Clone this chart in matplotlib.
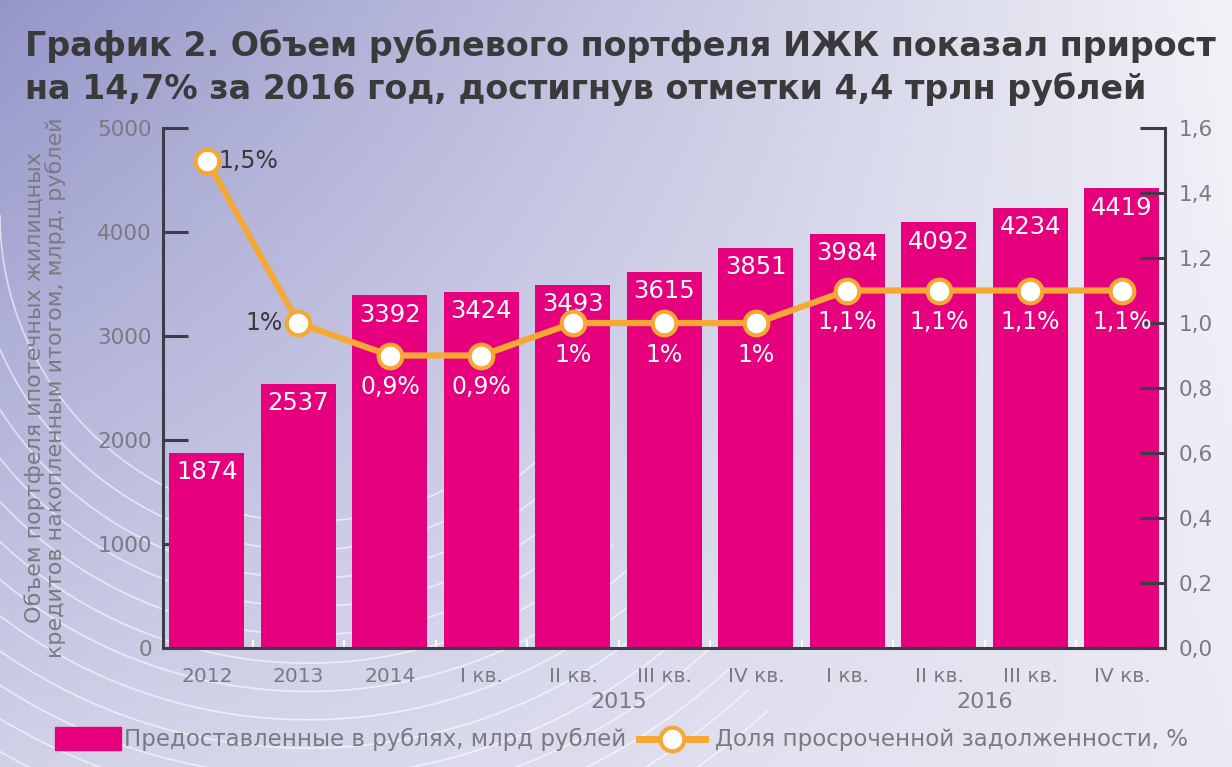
import numpy as np
import matplotlib.pyplot as plt
from matplotlib.lines import Line2D
from matplotlib.patches import Rectangle, Arc

# Data
categories = ['2012', '2013', '2014', 'I кв.', 'II кв.', 'III кв.', 'IV кв.',
              'I кв.', 'II кв.', 'III кв.', 'IV кв.']
portfolio = [1874, 2537, 3392, 3424, 3493, 3615, 3851, 3984, 4092, 4234, 4419]
overdue = [1.5, 1.0, 0.9, 0.9, 1.0, 1.0, 1.0, 1.1, 1.1, 1.1, 1.1]
overdue_labels = ['1,5%', '1%', '0,9%', '0,9%', '1%', '1%', '1%',
                  '1,1%', '1,1%', '1,1%', '1,1%']
year_groups = [('2015', 3, 6), ('2016', 7, 10)]
left_ticks = [0, 1000, 2000, 3000, 4000, 5000]
right_ticks = [0.0, 0.2, 0.4, 0.6, 0.8, 1.0, 1.2, 1.4, 1.6]

magenta = '#E6007E'
orange = '#F5A834'
axis_col = '#3d3d4a'
grey = '#7a7a80'
title_col = '#3a3a3a'

fig = plt.figure(figsize=(12.32, 7.67), dpi=100)

# decorative background
bg = fig.add_axes([0, 0, 1, 1], zorder=-10)
h, w = 200, 320
yy, xx = np.mgrid[0:1:h * 1j, 0:1:w * 1j]
tl = np.array([0.58, 0.59, 0.79])
tr = np.array([0.95, 0.95, 0.97])
bl = np.array([0.82, 0.82, 0.91])
br = np.array([0.92, 0.92, 0.96])
img = ((1 - xx)[..., None] * (1 - yy)[..., None] * tl + xx[..., None] * (1 - yy)[..., None] * tr
       + (1 - xx)[..., None] * yy[..., None] * bl + xx[..., None] * yy[..., None] * br)
bg.imshow(img, extent=[0, 1, 0, 1], aspect='auto', origin='upper')
for r in np.linspace(0.25, 0.55, 14):
    bg.add_patch(Arc((0.25, 0.72), 2 * r, 2 * r * 1.6, theta1=180, theta2=300,
                     color='white', lw=1.2, alpha=0.6))
bg.set_xlim(0, 1)
bg.set_ylim(0, 1)
bg.axis('off')

ax = fig.add_axes([0.1323, 0.1551, 0.8133, 0.678])
ax.patch.set_alpha(0)
x = np.arange(len(categories))
ax.bar(x, portfolio, width=0.82, color=magenta, zorder=2)
for xi, v in zip(x, portfolio):
    ax.text(xi, v - 70, str(v), ha='center', va='top', color='white', fontsize=17.5, zorder=3)

ax.set_xlim(-0.48, 10.47)
ax.set_ylim(0, 5000)
ax.set_yticks(left_ticks)
ax.set_yticklabels([str(t) for t in left_ticks])
ax.tick_params(axis='y', direction='in', length=18, width=2.2, color=axis_col,
               labelsize=15.5, labelcolor=grey, pad=8)
ax.set_xticks(x)
ax.set_xticklabels(categories)
ax.tick_params(axis='x', length=0, labelsize=14.5, labelcolor=grey, pad=14)
ax.set_xticks(np.arange(0.5, 10, 1), minor=True)
ax.tick_params(axis='x', which='minor', direction='in', length=6, width=1.5, color='white')
ax.spines['top'].set_visible(False)
ax.spines['right'].set_visible(False)
ax.spines['left'].set_color(axis_col)
ax.spines['left'].set_linewidth(2.2)
ax.spines['bottom'].set_color(axis_col)
ax.spines['bottom'].set_linewidth(2.2)
ax.set_ylabel('Объем портфеля ипотечных жилищных\nкредитов накопленным итогом, млрд. рублей',
              fontsize=16, color=grey, linespacing=1.0)
ax.yaxis.set_label_coords(-0.097, 0.5)

for name, a, b in year_groups:
    ax.text((a + b) / 2, -0.085, name, transform=ax.get_xaxis_transform(),
            ha='center', va='top', fontsize=16, color=grey)

ax2 = ax.twinx()
ax2.set_ylim(0, 1.6)
ax2.set_yticks(right_ticks)
ax2.set_yticklabels([f'{t:.1f}'.replace('.', ',') for t in right_ticks])
ax2.tick_params(axis='y', direction='in', length=18, width=2.2, color=axis_col,
                labelsize=15.5, labelcolor=grey, pad=10)
for s in ['top', 'left', 'bottom']:
    ax2.spines[s].set_visible(False)
ax2.spines['right'].set_color(axis_col)
ax2.spines['right'].set_linewidth(2.2)
ax2.plot(x, overdue, color=orange, lw=4.5, marker='o', markersize=17,
         markerfacecolor='white', markeredgecolor=orange, markeredgewidth=3, zorder=4)
for i, (xi, v, lab) in enumerate(zip(x, overdue, overdue_labels)):
    if i == 0:
        ax2.text(xi + 0.13, v, lab, ha='left', va='center', fontsize=17, color=title_col)
    elif i == 1:
        ax2.text(xi - 0.17, v, lab, ha='right', va='center', fontsize=17, color=title_col)
    else:
        ax2.text(xi, v - 0.06, lab, ha='center', va='top', fontsize=17, color='white')

fig.text(0.02, 0.94, 'График 2. Объем рублевого портфеля ИЖК показал прирост',
         fontsize=24, fontweight='bold', color=title_col, va='center', ha='left')
fig.text(0.02, 0.884, 'на 14,7% за 2016 год, достигнув отметки 4,4 трлн рублей',
         fontsize=24, fontweight='bold', color=title_col, va='center', ha='left')

# legend
fig.patches.append(Rectangle((0.045, 0.022), 0.053, 0.03, transform=fig.transFigure,
                             color=magenta))
fig.text(0.101, 0.036, 'Предоставленные в рублях, млрд рублей', fontsize=16.5,
         color=grey, va='center')
fig.lines.append(Line2D([0.519, 0.572], [0.036, 0.036], transform=fig.transFigure,
                        color=orange, lw=5))
fig.lines.append(Line2D([0.5455], [0.036], transform=fig.transFigure, color=orange,
                        marker='o', markersize=17, markerfacecolor='white',
                        markeredgecolor=orange, markeredgewidth=3))
fig.text(0.58, 0.036, 'Доля просроченной задолженности, %', fontsize=16.5,
         color=grey, va='center')

fig.savefig('out.png', dpi=100)
